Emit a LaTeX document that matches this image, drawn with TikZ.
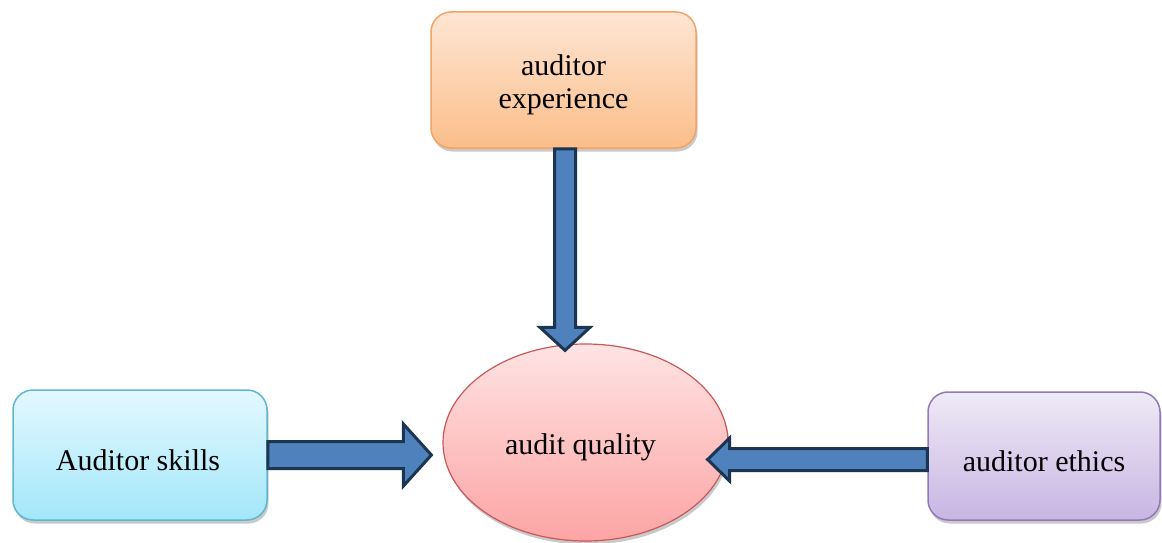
\documentclass[tikz,border=0pt]{standalone}
\usepackage{fontspec}
\setmainfont{Liberation Serif}
\usetikzlibrary{calc,shapes.geometric,shadows}

\definecolor{arrowfill}{HTML}{4F81BD}
\definecolor{arrowedge}{HTML}{1C3550}
\definecolor{orangetop}{HTML}{FEE6D4}
\definecolor{orangebot}{HTML}{FBBE8A}
\definecolor{orangeedge}{HTML}{F2A365}
\definecolor{cyantop}{HTML}{E3F8FE}
\definecolor{cyanbot}{HTML}{A3E7FA}
\definecolor{cyanedge}{HTML}{5FB6CF}
\definecolor{violettop}{HTML}{EEEAF6}
\definecolor{violetbot}{HTML}{C8B5E3}
\definecolor{violetedge}{HTML}{9479B8}
\definecolor{pinktop}{HTML}{FFE3E3}
\definecolor{pinkbot}{HTML}{FCA4A4}
\definecolor{pinkedge}{HTML}{C8585A}

\tikzset{
  softshadow/.style={drop shadow={shadow xshift=1.5pt,shadow yshift=-3.5pt,opacity=0.3,fill=black!70}},
  factor/.style={rounded corners=20pt, line width=1.5pt, align=center,
    font=\fontsize{30}{33}\selectfont, softshadow},
  oneline/.style={text height=30pt, text depth=0pt},
  outcome/.style={ellipse, line width=1.2pt, draw=pinkedge,
    top color=pinktop, bottom color=pinkbot, inner sep=0pt,
    minimum width=285pt, minimum height=197pt,
    text height=24pt, text depth=0pt,
    font=\fontsize{30}{33}\selectfont, softshadow},
  blockarrow/.style={fill=arrowfill, draw=arrowedge, line width=3pt, line join=miter}
}

\begin{document}
\begin{tikzpicture}[x=1pt,y=1pt]
\useasboundingbox (0,0) rectangle (1162,-543);

% central outcome
\node[outcome] (quality) at (585.5,-442.5) {audit quality\hspace*{10pt}};

% influencing factors
\node[factor, draw=orangeedge, top color=orangetop, bottom color=orangebot,
      minimum width=265pt, minimum height=136pt, text height=63pt, text depth=7pt]
      (experience) at (563.5,-80) {auditor\\experience};
\node[factor, oneline, draw=cyanedge, top color=cyantop, bottom color=cyanbot,
      minimum width=254pt, minimum height=130pt] (skills) at (140,-455)
      {Auditor skills\hspace*{4pt}};
\node[factor, oneline, draw=violetedge, top color=violettop, bottom color=violetbot,
      minimum width=232pt, minimum height=128pt] (ethics) at (1044,-456)
      {auditor ethics};

% arrow tips resting on the ellipse
\coordinate (tipTop) at ($(quality.north)+(-20.5,-7)$);
\coordinate (tipLeft) at ($(quality.west)+(-11,-12.5)$);
\coordinate (tipRight) at ($(quality.east)+(-21,-17)$);

% experience -> quality (downwards)
\coordinate (startTop) at (tipTop |- experience.south);
\draw[blockarrow]
  ($(startTop)+(-10.5,0)$) -- ($(tipTop)+(-10.5,23)$) -- ($(tipTop)+(-25,23)$) --
  (tipTop) -- ($(tipTop)+(25,23)$) -- ($(tipTop)+(10.5,23)$) --
  ($(startTop)+(10.5,0)$) -- cycle;

% skills -> quality (rightwards)
\coordinate (startLeft) at (skills.east |- tipLeft);
\draw[blockarrow]
  ($(startLeft)+(0,13.5)$) -- ($(tipLeft)+(-28,13.5)$) -- ($(tipLeft)+(-28,31)$) --
  (tipLeft) -- ($(tipLeft)+(-28,-31)$) -- ($(tipLeft)+(-28,-13.5)$) --
  ($(startLeft)+(0,-13.5)$) -- cycle;

% ethics -> quality (leftwards)
\coordinate (startRight) at (ethics.west |- tipRight);
\draw[blockarrow]
  ($(startRight)+(0,11)$) -- ($(tipRight)+(22,11)$) -- ($(tipRight)+(22,21.5)$) --
  (tipRight) -- ($(tipRight)+(22,-21.5)$) -- ($(tipRight)+(22,-11)$) --
  ($(startRight)+(0,-11)$) -- cycle;
\end{tikzpicture}
\end{document}
